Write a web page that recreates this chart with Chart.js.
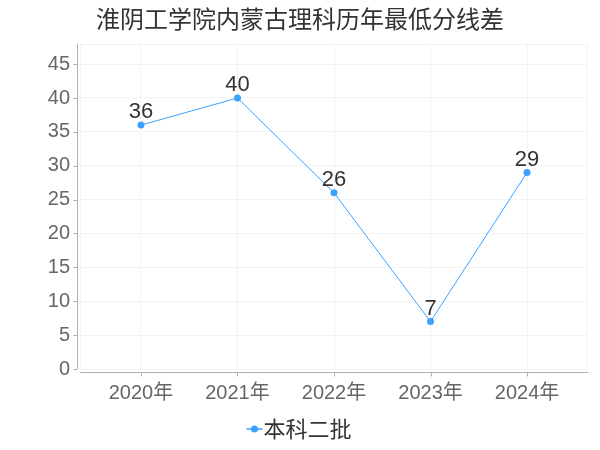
<!DOCTYPE html>
<html>
<head>
<meta charset="utf-8">
<script src="https://cdn.jsdelivr.net/npm/chart.js@4/dist/chart.umd.min.js"></script>
<style>
html,body{margin:0;padding:0;background:#fff;}
#wrap{width:600px;height:450px;}
</style>
</head>
<body>
<div id="wrap"><canvas id="c" width="600" height="450"></canvas></div>
<script>
const titleText = '淮阴工学院内蒙古理科历年最低分线差';
const categories = ['2020年', '2021年', '2022年', '2023年', '2024年'];
const seriesName = '本科二批';
const values = [36, 40, 26, 7, 29];
const yMin = 0, yMax = 48, yStep = 5;

const FONT = "'Liberation Sans', 'Noto Sans CJK SC', sans-serif";
const TFONT = "'Noto Sans CJK SC', sans-serif";
const LINE = '#3ba1ff';
const AXIS = '#b0b0b0';
const GRID = '#f3f3f3';

// legend marker: short line with dot (canvas offset so it sits just left of the text)
const mk = document.createElement('canvas');
mk.width = 32; mk.height = 10;
(function(){
  const g = mk.getContext('2d');
  g.strokeStyle = LINE; g.lineWidth = 1.5;
  g.beginPath(); g.moveTo(12,5); g.lineTo(28,5); g.stroke();
  g.fillStyle = LINE; g.beginPath(); g.arc(20,5,3.5,0,Math.PI*2); g.fill();
})();

const axisPlugin = {
  id: 'axisLines',
  beforeDatasetsDraw(chart) {
    const {ctx, chartArea: a} = chart;
    ctx.save();
    ctx.strokeStyle = GRID; ctx.lineWidth = 1;
    ctx.strokeRect(Math.round(a.left) + 0.5, Math.round(a.top) + 0.5,
                   Math.round(a.right - a.left) - 1, Math.round(a.bottom - a.top));
    ctx.restore();
  },
  afterDraw(chart) {
    const {ctx, chartArea: a, scales: {x, y}} = chart;
    ctx.save();
    ctx.strokeStyle = AXIS; ctx.lineWidth = 1;
    const lx = Math.round(a.left - 3) + 0.5;
    const by = Math.round(a.bottom + 3) + 0.5;
    ctx.beginPath();
    ctx.moveTo(lx, a.top); ctx.lineTo(lx, a.bottom);
    ctx.moveTo(a.left, by); ctx.lineTo(a.right, by);
    y.ticks.forEach(t => {
      const py = Math.round(y.getPixelForValue(t.value)) + 0.5;
      ctx.moveTo(lx, py); ctx.lineTo(lx - 4, py);
    });
    x.ticks.forEach(t => {
      const px = Math.round(x.getPixelForValue(t.value)) + 0.5;
      ctx.moveTo(px, by); ctx.lineTo(px, by + 4);
    });
    ctx.stroke();
    ctx.restore();
  }
};

const labelPlugin = {
  id: 'pointLabels',
  afterDatasetsDraw(chart) {
    const {ctx} = chart;
    ctx.save();
    ctx.font = '22px ' + FONT;
    ctx.fillStyle = '#333';
    ctx.textAlign = 'center';
    ctx.textBaseline = 'middle';
    chart.data.datasets.forEach((ds, di) => {
      chart.getDatasetMeta(di).data.forEach((el, i) => {
        ctx.fillText(String(ds.data[i].y), el.x, el.y - 13);
      });
    });
    ctx.restore();
  }
};

new Chart(document.getElementById('c'), {
  type: 'line',
  data: {
    datasets: [{
      label: seriesName,
      data: values.map((v, i) => ({x: i, y: v})),
      borderColor: LINE,
      backgroundColor: LINE,
      borderWidth: 1,
      pointRadius: 3.5,
      pointHoverRadius: 3.5,
      pointBackgroundColor: LINE,
      pointBorderWidth: 0,
      tension: 0,
      fill: false
    }]
  },
  options: {
    responsive: false,
    animation: false,
    layout: {padding: {left: 12, right: 12, top: 0, bottom: 0}},
    plugins: {
      title: {
        display: true, text: titleText, color: '#333',
        font: {family: TFONT, size: 24, weight: 'normal'},
        padding: {top: 4, bottom: 11}
      },
      legend: {
        position: 'bottom',
        labels: {
          usePointStyle: true, pointStyle: mk,
          color: '#333', font: {family: TFONT, size: 22},
          padding: 0, boxWidth: 4
        }
      },
      tooltip: {enabled: false}
    },
    scales: {
      x: {
        type: 'linear',
        min: -0.632, max: categories.length - 1 + 0.632,
        afterFit(s) { s.height = 49; },
        border: {display: false},
        grid: {color: GRID, drawTicks: false},
        ticks: {
          stepSize: 1, autoSkip: false, maxRotation: 0, padding: 12,
          includeBounds: false,
          color: '#666', font: {family: FONT, size: 20},
          callback: v => categories[v]
        }
      },
      y: {
        min: yMin, max: yMax,
        afterFit(s) { s.width = 68; },
        border: {display: false},
        grid: {color: GRID, drawTicks: false},
        ticks: {
          stepSize: yStep, padding: 10, includeBounds: false,
          color: '#666', font: {family: FONT, size: 20},
          callback: v => String(v)
        }
      }
    }
  },
  plugins: [axisPlugin, labelPlugin]
});
</script>
</body>
</html>
